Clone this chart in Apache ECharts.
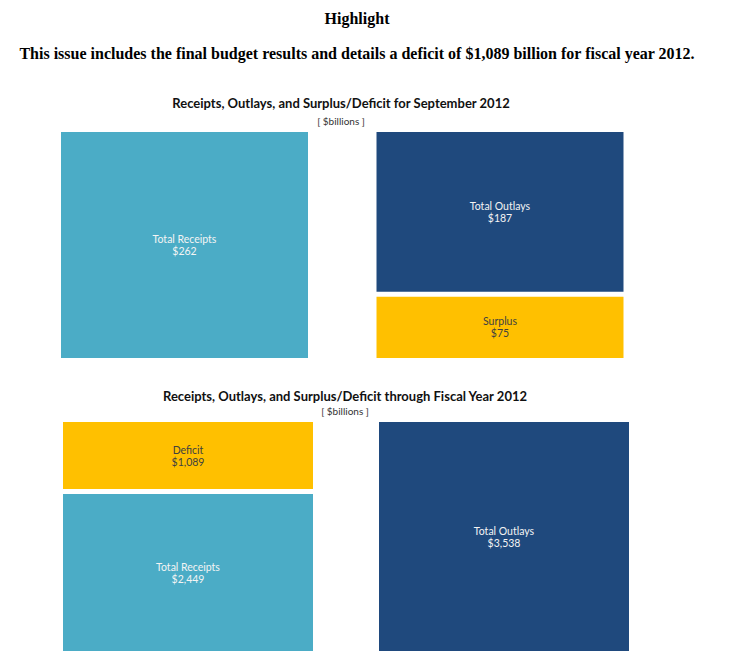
<!DOCTYPE html>
<html>
<head>
<meta charset="utf-8">
<script src="https://cdn.jsdelivr.net/npm/echarts@6/dist/echarts.min.js"></script>
<style>html,body{margin:0;padding:0;background:#fff;}#c{width:744px;height:659px;}</style>
</head>
<body>
<div id="c"></div>
<script>
// ---- data ----
const categories = ['Receipts', 'Outlays'];
const sepReceipts = [262, '-'];
const sepSurplus = ['-', 75];
const sepOutlays = ['-', 187];
const fyReceipts = [2449, '-'];
const fyDeficit = [1089, '-'];
const fyOutlays = ['-', 3538];
const sepMax = 262;
const fyMax = 3538;

const TEAL = '#4BACC6', NAVY = '#1F497D', GOLD = '#FFC000';
const BW = 2.5; // white separating border (drawn inside the bar)

function fmt(v) { return '$' + Number(v).toLocaleString('en-US'); }
function lab(color) {
  return {
    show: true, position: 'inside', color: color,
    fontFamily: 'Lato', fontSize: 10.5, lineHeight: 12, align: 'center',
    formatter: p => p.seriesName + '\n' + fmt(p.value)
  };
}
function bar(name, data, color, xi, labelColor, width) {
  return {
    type: 'bar', name: name, data: data, stack: 's' + xi,
    xAxisIndex: xi, yAxisIndex: xi, barWidth: width,
    itemStyle: { color: color, borderColor: '#fff', borderWidth: BW },
    label: lab(labelColor), silent: true
  };
}
const chart = echarts.init(document.getElementById('c'), null, { renderer: 'svg' });
const hidden = { show: false };
chart.setOption({
  animation: false,
  grid: [
    { left: 26.75, width: 631, top: 132 - BW, height: 226 + 2 * BW },
    { left: 30, width: 632, top: 422 - BW, height: 229 + 2 * BW }
  ],
  xAxis: [
    { type: 'category', gridIndex: 0, data: categories, axisLine: hidden, axisTick: hidden, axisLabel: hidden },
    { type: 'category', gridIndex: 1, data: categories, axisLine: hidden, axisTick: hidden, axisLabel: hidden }
  ],
  yAxis: [
    { type: 'value', gridIndex: 0, min: 0, max: sepMax, show: false, splitLine: hidden },
    { type: 'value', gridIndex: 1, min: 0, max: fyMax, show: false, splitLine: hidden }
  ],
  series: [
    bar('Total Receipts', sepReceipts, TEAL, 0, '#f4f4f4', 247 + 2 * BW),
    bar('Surplus', sepSurplus, GOLD, 0, '#404040', 247 + 2 * BW),
    bar('Total Outlays', sepOutlays, NAVY, 0, '#f4f4f4', 247 + 2 * BW),
    bar('Total Receipts', fyReceipts, TEAL, 1, '#f4f4f4', 250 + 2 * BW),
    bar('Deficit', fyDeficit, GOLD, 1, '#404040', 250 + 2 * BW),
    bar('Total Outlays', fyOutlays, NAVY, 1, '#f4f4f4', 250 + 2 * BW)
  ],
  graphic: [
    { type: 'text', x: 357, y: 18, style: { text: 'Highlight', fontFamily: 'Liberation Serif', fontWeight: 'bold', fontSize: 16, fill: '#000', textAlign: 'center', textVerticalAlign: 'middle' } },
    { type: 'text', x: 357, y: 53, style: { text: 'This issue includes the final budget results and details a deficit of $1,089 billion for fiscal year 2012.', fontFamily: 'Liberation Serif', fontWeight: 'bold', fontSize: 16, fill: '#000', textAlign: 'center', textVerticalAlign: 'middle' } },
    { type: 'text', x: 341, y: 103, style: { text: 'Receipts, Outlays, and Surplus/Deficit for September 2012', fontFamily: 'Lato', fontWeight: 'bold', fontSize: 13, fill: '#111', textAlign: 'center', textVerticalAlign: 'middle' } },
    { type: 'text', x: 341, y: 121, style: { text: '[ $billions ]', fontFamily: 'Lato', fontSize: 10, fill: '#333', textAlign: 'center', textVerticalAlign: 'middle' } },
    { type: 'text', x: 345, y: 396, style: { text: 'Receipts, Outlays, and Surplus/Deficit through Fiscal Year 2012', fontFamily: 'Lato', fontWeight: 'bold', fontSize: 13, fill: '#111', textAlign: 'center', textVerticalAlign: 'middle' } },
    { type: 'text', x: 345, y: 411, style: { text: '[ $billions ]', fontFamily: 'Lato', fontSize: 10, fill: '#333', textAlign: 'center', textVerticalAlign: 'middle' } }
  ]
});
</script>
</body>
</html>
